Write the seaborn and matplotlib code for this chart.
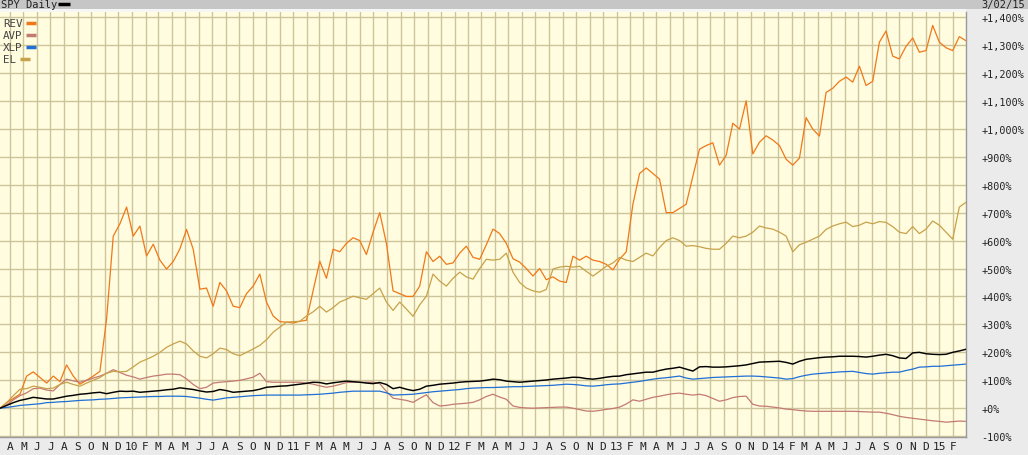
import pandas as pd
import numpy as np
import matplotlib
matplotlib.use('Agg')
import matplotlib.pyplot as plt
from matplotlib.patches import Rectangle
import seaborn as sns

# ============================================================
# DATA  (% change since 2009-03-09, one value every ~15 days)
# ============================================================
start_date = '2009-03-09'
end_date = '2015-03-02'

rev = [0, 20, 35, 50, 115, 130, 110, 90, 115, 95, 155, 115, 86, 100, 115, 132,
       320, 616, 660, 720, 616, 652, 545, 587, 530, 498, 525, 570, 640, 569, 426, 430,
       365, 450, 420, 365, 360, 410, 437, 480, 380, 330, 310, 308, 305, 311, 315, 420,
       526, 465, 569, 560, 590, 610, 600, 550, 630, 700, 590, 420, 410, 400, 400, 437,
       560, 525, 544, 515, 520, 555, 580, 540, 533, 585, 641, 625, 590, 535, 523, 500,
       473, 500, 460, 470, 455, 450, 544, 530, 544, 530, 525, 515, 495, 533, 560, 730,
       840, 860, 840, 820, 700, 700, 715, 730, 830, 927, 940, 950, 870, 905, 1020, 999,
       1100, 910, 952, 975, 960, 940, 891, 870, 895, 1040, 999, 974, 1130, 1145, 1170, 1185,
       1167, 1224, 1155, 1170, 1310, 1350, 1260, 1250, 1295, 1325, 1274, 1280, 1370, 1310, 1290, 1280,
       1330, 1315]

avp = [0, 12, 30, 45, 55, 70, 72, 65, 62, 85, 104, 98, 93, 100, 108, 115,
       125, 138, 128, 118, 112, 104, 110, 115, 118, 122, 122, 120, 105, 85, 70, 75,
       90, 93, 95, 97, 100, 105, 111, 125, 95, 93, 93, 93, 93, 93, 90, 86,
       80, 75, 79, 85, 92, 93, 93, 93, 93, 88, 60, 36, 32, 28, 21, 35,
       48, 20, 8, 10, 14, 16, 18, 21, 30, 42, 50, 40, 32, 8, 3, 1,
       0, 1, 2, 3, 4, 4, 0, -5, -10, -11, -8, -4, -1, 4, 15, 30,
       25, 32, 39, 43, 48, 52, 54, 50, 47, 50, 45, 35, 25, 30, 38, 42,
       43, 14, 8, 7, 4, 1, -3, -5, -8, -10, -11, -11, -11, -11, -11, -11,
       -11, -12, -13, -14, -14, -18, -23, -29, -33, -36, -39, -42, -45, -47, -50, -48,
       -46, -47]

xlp = [0, 3, 6, 10, 12, 14, 16, 20, 21, 23, 24, 26, 28, 29, 30, 32,
       33, 35, 37, 38, 39, 40, 41, 42, 42, 43, 43, 43, 42, 39, 36, 32,
       29, 33, 37, 39, 41, 43, 45, 46, 47, 47, 47, 47, 47, 47, 48, 49,
       50, 52, 54, 57, 59, 61, 61, 61, 61, 61, 55, 47, 48, 49, 50, 53,
       56, 59, 61, 63, 65, 67, 70, 72, 73, 74, 74, 75, 76, 77, 77, 78,
       79, 80, 81, 82, 84, 86, 85, 83, 80, 79, 81, 84, 86, 87, 90, 93,
       96, 100, 104, 107, 109, 112, 115, 108, 104, 106, 108, 110, 111, 112, 113, 114,
       115, 115, 114, 112, 110, 108, 104, 106, 113, 118, 122, 124, 126, 128, 130, 131,
       132, 128, 124, 122, 125, 127, 129, 129, 135, 140, 147, 148, 150, 150, 152, 154,
       156, 158]

el = [0, 20, 45, 68, 70, 79, 75, 70, 72, 85, 93, 85, 79, 90, 100, 110,
      125, 132, 130, 132, 148, 165, 175, 186, 200, 218, 230, 240, 230, 205, 186, 180,
      195, 215, 210, 195, 188, 200, 212, 225, 245, 272, 290, 308, 310, 311, 330, 345,
      365, 344, 360, 380, 390, 401, 395, 390, 410, 430, 380, 350, 380, 355, 329, 370,
      401, 480, 455, 437, 465, 487, 470, 462, 500, 533, 530, 533, 555, 487, 450, 430,
      420, 415, 425, 498, 505, 508, 505, 508, 490, 473, 490, 508, 520, 540, 530, 525,
      540, 555, 545, 575, 600, 610, 600, 580, 582, 578, 572, 569, 569, 590, 616, 610,
      616, 630, 652, 645, 641, 630, 616, 560, 585, 594, 605, 616, 640, 652, 660, 666,
      650, 655, 666, 660, 668, 665, 650, 630, 625, 650, 625, 641, 670, 655, 630, 605,
      720, 737]

spy = [0, 10, 20, 28, 33, 39, 36, 33, 33, 38, 43, 46, 50, 52, 55, 57,
       52, 57, 61, 60, 61, 57, 59, 61, 63, 66, 68, 73, 70, 67, 62, 58,
       60, 67, 63, 57, 59, 61, 63, 68, 75, 77, 79, 80, 83, 86, 89, 93,
       92, 87, 91, 94, 97, 95, 93, 90, 88, 92, 85, 70, 75, 68, 63, 68,
       79, 82, 86, 88, 90, 93, 95, 96, 97, 100, 104, 102, 97, 95, 93, 95,
       97, 99, 101, 104, 106, 108, 111, 110, 106, 104, 107, 111, 114, 115, 120, 123,
       126, 129, 129, 135, 140, 143, 147, 140, 133, 148, 149, 147, 147, 148, 150, 152,
       155, 160, 165, 166, 167, 168, 164, 158, 168, 175, 178, 181, 183, 184, 186, 186,
       186, 185, 183, 186, 190, 193, 188, 180, 178, 198, 200, 195, 193, 192, 193, 200,
       205, 211]

tickers = ['REV', 'AVP', 'XLP', 'EL', 'SPY']
colors = {'REV': '#f07818', 'AVP': '#c47a74', 'XLP': '#1f6fd6',
          'EL': '#c8a24a', 'SPY': '#000000'}
y_ticks = list(range(-100, 1401, 100))

series = {'REV': rev, 'AVP': avp, 'XLP': xlp, 'EL': el, 'SPY': spy}
n_pts = len(rev)
for name, vals in series.items():
    assert len(vals) == n_pts, (name, len(vals))
dates = pd.date_range(start_date, end_date, periods=n_pts)

long_df = pd.concat([pd.DataFrame({'date': dates, 'pct': vals, 'ticker': name})
                     for name, vals in series.items()], ignore_index=True)

# ============================================================
# FIGURE
# ============================================================
sns.set_style('white')
plt.rcParams['font.family'] = ['DejaVu Sans Mono', 'DejaVu Sans']

W, H = 1028, 456
fig = plt.figure(figsize=(W / 100, H / 100), dpi=100, facecolor='#ebebeb')

# header bar
fig.patches.append(Rectangle((0, 1 - 10 / H), 1, 10 / H, transform=fig.transFigure,
                             facecolor='#c6c6c6', edgecolor='none', zorder=0))
fig.patches.append(Rectangle((0, 1 - 13 / H), 966 / W, 3 / H, transform=fig.transFigure,
                             facecolor='#f6f6f6', edgecolor='none', zorder=0))
fig.text(1 / W, 1 - 5 / H, 'SPY Daily', fontsize=7.5, va='center', ha='left', color='#222222')
fig.lines.append(plt.Line2D([58 / W, 70 / W], [1 - 4.5 / H, 1 - 4.5 / H], transform=fig.transFigure,
                            color='black', lw=2.5, solid_capstyle='butt'))
fig.text(1025 / W, 1 - 5 / H, '3/02/15', fontsize=7.5, va='center', ha='right', color='#222222')

ax = fig.add_axes([0, 1 - 438 / H, 966 / W, (438 - 13) / H])
ax.set_facecolor('#fffcdf')

sns.lineplot(data=long_df, x='date', y='pct', hue='ticker', hue_order=tickers,
             palette=colors, linewidth=0.9, legend=False, ax=ax, estimator=None)
for line, name in zip(ax.get_lines(), tickers):
    if name == 'SPY':
        line.set_linewidth(1.05)
        line.set_zorder(5)

ax.set_xlim(pd.Timestamp(start_date), pd.Timestamp(end_date))
ax.set_ylim(-103, 1418)

# month gridlines + letters
month_starts = pd.date_range('2009-04-01', '2015-02-01', freq='MS')
month_labels = [f'{d.year % 100:02d}' if d.month == 1 else d.strftime('%b')[0] for d in month_starts]
ax.set_xticks(month_starts)
ax.set_xticklabels(month_labels, fontsize=8, color='#222222')
ax.set_yticks(y_ticks)
ax.set_yticklabels([f'{v:+,}%' for v in y_ticks], fontsize=7.3, color='#222222')
ax.yaxis.tick_right()
ax.tick_params(axis='y', length=0, pad=11)
ax.tick_params(axis='x', length=0, pad=3)
ax.grid(True, color='#ccc59c', linewidth=1.0)
ax.set_axisbelow(True)
ax.set_xlabel('')
ax.set_ylabel('')
for side in ['top', 'left']:
    ax.spines[side].set_visible(False)
for side in ['right', 'bottom']:
    ax.spines[side].set_color('#9a9a9a')
    ax.spines[side].set_linewidth(1.0)

# legend (text + short swatch)
legend_rows = [('REV', 24, 26), ('AVP', 36, 26), ('XLP', 48, 26), ('EL', 60, 20)]
for name, ypix, xsw in legend_rows:
    fig.text(3 / W, 1 - ypix / H, name, fontsize=7.8, va='center', ha='left', color='#444444')
    fig.lines.append(plt.Line2D([xsw / W, (xsw + 10) / W], [1 - ypix / H, 1 - ypix / H],
                                transform=fig.transFigure, color=colors[name], lw=2.5,
                                solid_capstyle='butt'))

plt.savefig('out.png', dpi=100, facecolor=fig.get_facecolor())
plt.close()
print('saved out.png')
